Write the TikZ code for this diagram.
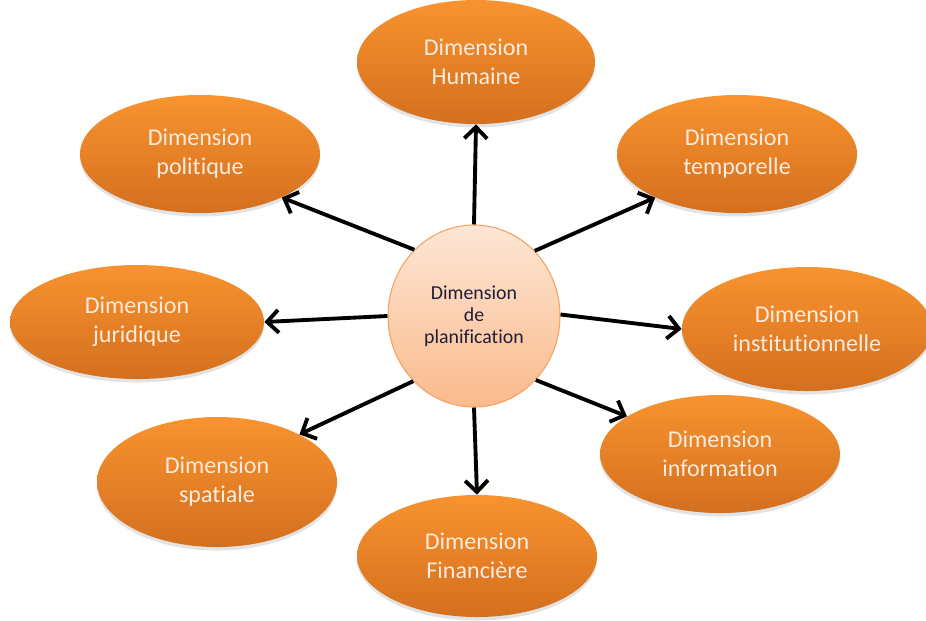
\documentclass[tikz,border=0pt]{standalone}
\usepackage{fontspec}
\setmainfont{Carlito}[Ligatures={NoCommon}]
\usetikzlibrary{shapes.geometric,arrows.meta,shadows}
\definecolor{otop}{HTML}{F8932F}
\definecolor{obot}{HTML}{D46F1F}
\definecolor{ctop}{HTML}{FDE6D5}
\definecolor{cbot}{HTML}{FBBA8C}
\definecolor{cedge}{HTML}{F4A262}
\definecolor{otext}{HTML}{FDEBDD}
\definecolor{ctext}{HTML}{1E1E3A}
\tikzset{
  outer/.style={ellipse, inner sep=0pt, top color=otop, bottom color=obot, draw=none,
    drop shadow={shadow xshift=0pt, shadow yshift=-2pt, opacity=0.22},
    text=otext, align=center, font=\fontsize{13.7}{16.4}\selectfont},
  hub/.style={ellipse, inner sep=0pt, top color=ctop, bottom color=cbot, draw=cedge, line width=0.6pt,
    text=ctext, align=center, font=\fontsize{11.3}{12.6}\selectfont},
  link/.style={line width=2.2pt, -{Straight Barb[length=6.5pt,width=13pt,line width=2.2pt]}}
}
\begin{document}
\begin{tikzpicture}[x=0.02cm,y=-0.02cm]
\useasboundingbox (0,0) rectangle (926,620);
\node[hub, minimum width=172*0.02cm, minimum height=182*0.02cm] (c) at (474,316) {Dimension\\de\\planification};
\node[outer, minimum width=238*0.02cm, minimum height=124*0.02cm] (hum) at (476,62) {Dimension\\Humaine};
\node[outer, minimum width=240*0.02cm, minimum height=118*0.02cm] (pol) at (200,154) {Dimension\\politique};
\node[outer, minimum width=240*0.02cm, minimum height=118*0.02cm] (tem) at (737,154) {Dimension\\temporelle};
\node[outer, minimum width=254*0.02cm, minimum height=114*0.02cm] (jur) at (137,322) {Dimension\\juridique};
\node[outer, minimum width=250*0.02cm, minimum height=124*0.02cm] (ins) at (807,329) {Dimension\\institutionnelle};
\node[outer, minimum width=240*0.02cm, minimum height=130*0.02cm] (spa) at (217,482) {Dimension\\spatiale};
\node[outer, minimum width=240*0.02cm, minimum height=118*0.02cm] (inf) at (720,454) {Dimension\\information};
\node[outer, minimum width=240*0.02cm, minimum height=122*0.02cm] (fin) at (477,556) {Dimension\\Financière};
\draw[link] (c.90) -- (hum.-90);
\draw[link] (c.132) -- (pol.-28);
\draw[link] (c.47) -- (tem.-152);
\draw[link] (c.1) -- (ins.180);
\draw[link] (c.-46) -- (inf.158);
\draw[link] (c.-90) -- (fin.90);
\draw[link] (c.180) -- (jur.0);
\draw[link] (c.-133) -- (spa.30);
\end{tikzpicture}
\end{document}
